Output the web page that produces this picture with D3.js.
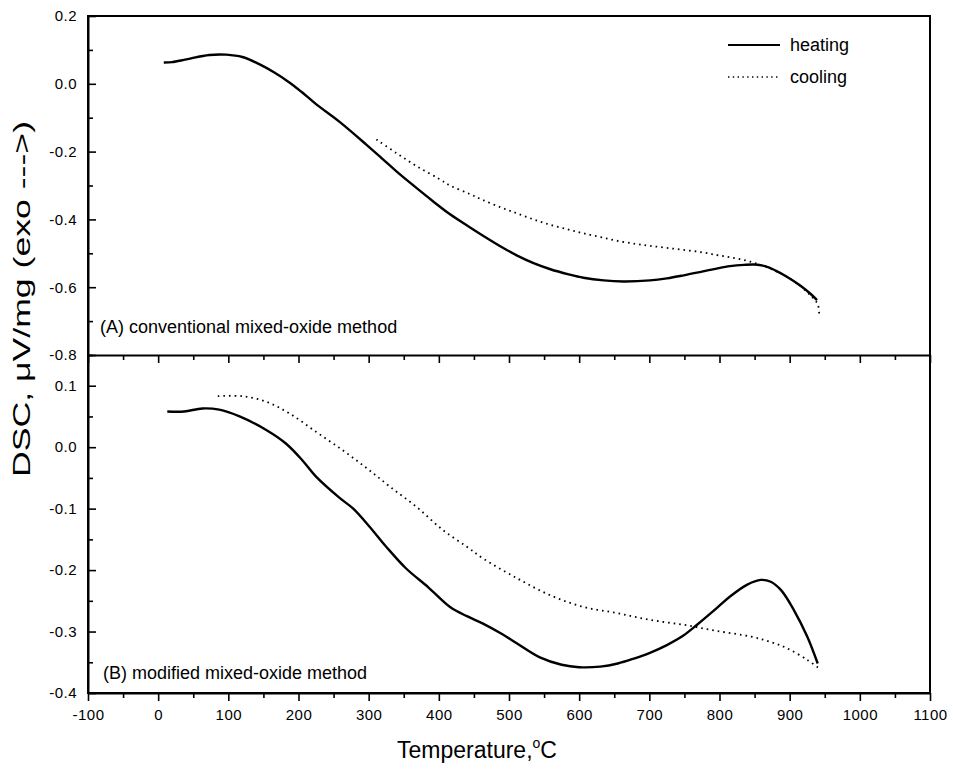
<!DOCTYPE html>
<html>
<head>
<meta charset="utf-8">
<script src="https://cdn.jsdelivr.net/npm/d3@7"></script>
<style>
  body { margin: 0; background: #fff; }
  svg { font-family: "Liberation Sans", Arial, sans-serif; }
</style>
</head>
<body>
<svg width="953" height="771"></svg>
<script>
// temperatures (C) and DSC values (uV/mg)
var heatA = [[8,0.063],[20,0.064],[40,0.072],[73,0.085],[97,0.086],[120,0.079],[144,0.058],[165,0.034],
  [187,0.004],[205,-0.025],[225,-0.06],[259,-0.113],[297,-0.18],[320,-0.222],[340,-0.259],[365,-0.302],
  [392,-0.347],[416,-0.385],[444,-0.423],[463,-0.448],[490,-0.482],[511,-0.506],[535,-0.529],[559,-0.547],
  [585,-0.562],[606,-0.572],[635,-0.58],[663,-0.583],[701,-0.58],[725,-0.574],[749,-0.565],[775,-0.554],
  [796,-0.545],[815,-0.538],[835,-0.534],[850,-0.533],[865,-0.538],[880,-0.551],[896,-0.569],[915,-0.595],
  [930,-0.62],[939,-0.638]];
var coolA = [[311,-0.164],[340,-0.205],[370,-0.245],[400,-0.28],[416,-0.3],[444,-0.325],[463,-0.343],
  [490,-0.366],[511,-0.382],[535,-0.4],[559,-0.416],[585,-0.43],[606,-0.441],[630,-0.452],[654,-0.463],
  [680,-0.472],[701,-0.478],[725,-0.484],[749,-0.49],[775,-0.497],[796,-0.505],[815,-0.512],[835,-0.52],
  [855,-0.532],[873,-0.546],[896,-0.569],[915,-0.596],[930,-0.625],[940,-0.65],[942,-0.678]];
var heatB = [[13,0.058],[37,0.058],[63,0.063],[87,0.061],[116,0.05],[154,0.028],[182,0.006],[206,-0.022],
  [225,-0.048],[259,-0.083],[278,-0.1],[301,-0.129],[325,-0.162],[353,-0.197],[385,-0.228],[416,-0.26],
  [440,-0.275],[463,-0.287],[490,-0.304],[511,-0.319],[544,-0.342],[575,-0.354],[600,-0.358],[630,-0.357],
  [655,-0.352],[678,-0.344],[700,-0.335],[725,-0.322],[748,-0.307],[768,-0.289],[796,-0.262],[815,-0.243],
  [839,-0.224],[859,-0.216],[873,-0.219],[888,-0.233],[906,-0.265],[925,-0.308],[940,-0.352]];
var coolB = [[85,0.083],[120,0.083],[154,0.074],[187,0.055],[225,0.025],[263,-0.005],[297,-0.034],
  [330,-0.064],[368,-0.097],[406,-0.135],[440,-0.162],[463,-0.181],[511,-0.213],[559,-0.241],[606,-0.26],
  [654,-0.27],[701,-0.281],[749,-0.289],[796,-0.299],[844,-0.308],[873,-0.317],[896,-0.327],[925,-0.346],
  [942,-0.36]];

var xTicks = [-100,0,100,200,300,400,500,600,700,800,900,1000,1100];
var yTicksA = [0.2,0.0,-0.2,-0.4,-0.6,-0.8];
var yTicksB = [0.1,0.0,-0.1,-0.2,-0.3,-0.4];
var seriesNames = ['heating','cooling'];

var svg = d3.select('svg');
var pLeft = 88, pRight = 930, pTop = 16, pMid = 355, pBottom = 693;

var x = d3.scaleLinear().domain([-100,1100]).range([pLeft,pRight]);
var yA = d3.scaleLinear().domain([-0.8,0.2]).range([pMid,pTop]);
var yB = d3.scaleLinear().domain([-0.4,0.15]).range([pBottom,pMid]);

function fmt(d){ return d3.format('.1f')(d).replace('\u2212','-'); }
function isMajor(list, d){ return list.some(function(t){ return Math.abs(t-d) < 1e-6; }); }

// x axes: between the panels (no labels) and at the bottom
function xAxis(y0, labels){
  var g = svg.append('g').attr('transform','translate(0,'+y0+')');
  g.call(d3.axisBottom(x).tickValues(d3.range(-100,1101,50)).tickSize(0).tickFormat(''));
  g.selectAll('.tick').append('line')
    .attr('y2', function(d){ return isMajor(xTicks, d) ? 8 : 5; })
    .attr('stroke','#000').attr('stroke-width',1.6);
  g.select('.domain').attr('stroke','#000').attr('stroke-width',2);
  if (labels) {
    g.selectAll('.tick').filter(function(d){ return isMajor(xTicks, d); })
      .select('text').text(function(d){ return d; })
      .attr('y', 16).attr('font-size', 15).attr('letter-spacing', 0.5).attr('fill','#000')
      .attr('font-family','"Liberation Sans", Arial, sans-serif');
  }
}
xAxis(pMid, false);
xAxis(pBottom, true);

function yAxis(y, step, ticks){
  var g = svg.append('g').attr('transform','translate('+pLeft+',0)');
  var d0 = y.domain()[0];
  var vals = d3.range(0, Math.round((y.domain()[1]-d0)/step)+1)
    .map(function(i){ return +(d0+i*step).toFixed(3); });
  g.call(d3.axisLeft(y).tickValues(vals).tickSize(0).tickFormat(''));
  g.select('.domain').attr('stroke','#000').attr('stroke-width',2);
  g.selectAll('.tick').append('line')
    .attr('x2', function(d){ return isMajor(ticks, d) ? 8 : 5; })
    .attr('stroke','#000').attr('stroke-width',1.6);
  g.selectAll('.tick').filter(function(d){ return isMajor(ticks, d); })
    .select('text').text(fmt)
    .attr('x', -11).attr('font-size', 15).attr('letter-spacing', 0.5).attr('fill','#000')
    .attr('font-family','"Liberation Sans", Arial, sans-serif');
}
yAxis(yA, 0.1, yTicksA);
yAxis(yB, 0.05, yTicksB);

// frame
svg.append('rect').attr('x',pLeft).attr('y',pTop).attr('width',pRight-pLeft).attr('height',pBottom-pTop)
  .attr('fill','none').attr('stroke','#000').attr('stroke-width',2);

function drawLine(data, y, dotted){
  var line = d3.line().curve(d3.curveCatmullRom.alpha(0.5))
    .x(function(d){ return x(d[0]); }).y(function(d){ return y(d[1]); });
  svg.append('path').datum(data).attr('d', line).attr('fill','none')
    .attr('stroke','#000')
    .attr('stroke-width', dotted ? 1.8 : 2.4)
    .attr('stroke-dasharray', dotted ? '1.6,4' : null);
}
drawLine(heatA, yA, false);
drawLine(coolA, yA, true);
drawLine(heatB, yB, false);
drawLine(coolB, yB, true);

// legend
seriesNames.forEach(function(name, i){
  var ly = 45 + i*32;
  svg.append('line').attr('x1',728).attr('x2',780).attr('y1',ly).attr('y2',ly)
    .attr('stroke','#000').attr('stroke-width', i ? 1.4 : 1.8)
    .attr('stroke-dasharray', i ? '1.4,3.4' : null);
  svg.append('text').attr('x',790).attr('y',ly+6).attr('font-size',18).text(name);
});

// panel labels
svg.append('text').attr('x',100).attr('y',333).attr('font-size',18)
  .text('(A) conventional mixed-oxide method');
svg.append('text').attr('x',103).attr('y',679).attr('font-size',18)
  .text('(B) modified mixed-oxide method');

// axis titles
var xt = svg.append('text').attr('x',477).attr('y',758).attr('text-anchor','middle').attr('font-size',23);
xt.append('tspan').text('Temperature,');
xt.append('tspan').attr('font-size',14).attr('dy',-10).text('o');
xt.append('tspan').attr('dy',10).text('C');

svg.append('text').attr('transform','translate(30,299) rotate(-90)')
  .attr('text-anchor','middle').attr('font-size',24)
  .attr('textLength', 356).attr('lengthAdjust','spacingAndGlyphs')
  .text('DSC,  \u03BCV/mg (exo --->)');
</script>
</body>
</html>
